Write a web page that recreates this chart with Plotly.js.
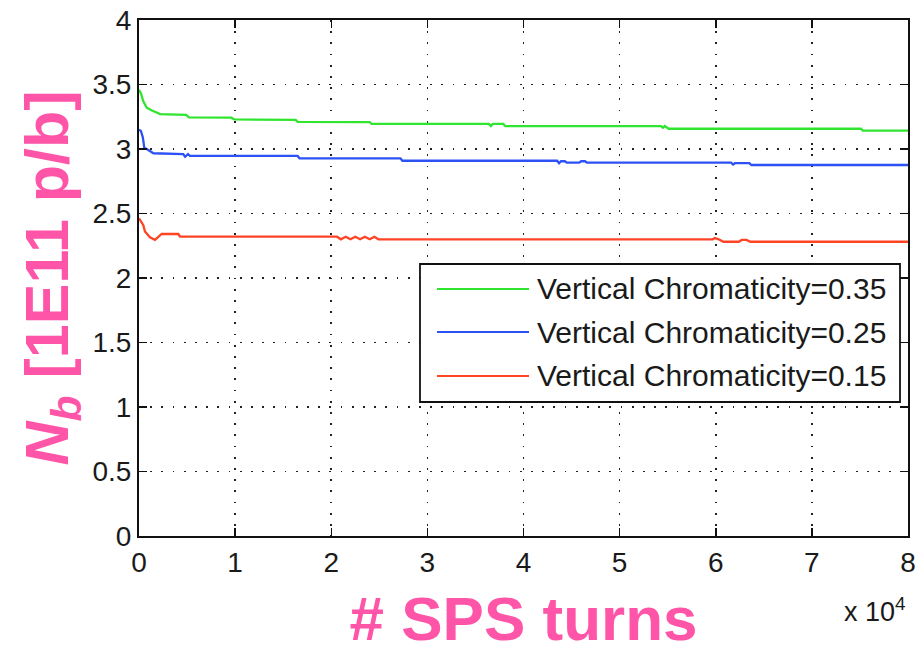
<!DOCTYPE html>
<html>
<head>
<meta charset="utf-8">
<script src="https://cdn.plot.ly/plotly-3.0.1.min.js"></script>
<style>html,body{margin:0;padding:0;background:#fff;}#chart{width:915px;height:653px;}</style>
</head>
<body>
<div id="chart"></div>
<script>
// ---- data ----
var seriesNames = ["Vertical Chromaticity=0.35", "Vertical Chromaticity=0.25", "Vertical Chromaticity=0.15"];

var greenTurns = [0, 200, 450, 800, 1300, 2200, 4900, 5200, 9600, 9900, 16300, 16500, 24000, 24200, 36400, 36600, 36800, 37900, 38100, 54300, 54500, 54700, 55100, 75100, 75300, 80000];
var greenNb    = [3.46, 3.43, 3.37, 3.32, 3.30, 3.27, 3.265, 3.245, 3.243, 3.23, 3.225, 3.21, 3.209, 3.194, 3.194, 3.178, 3.194, 3.194, 3.178, 3.178, 3.165, 3.178, 3.157, 3.157, 3.142, 3.142];

var blueTurns = [0, 200, 400, 550, 800, 1500, 4600, 4800, 5100, 5300, 16500, 16700, 27200, 27400, 43500, 43700, 43900, 44300, 44500, 45800, 46000, 46400, 46600, 61600, 61800, 62000, 63500, 63700, 80000];
var blueNb    = [3.15, 3.14, 3.09, 3.01, 3.00, 2.967, 2.961, 2.94, 2.961, 2.946, 2.946, 2.928, 2.928, 2.909, 2.909, 2.89, 2.905, 2.905, 2.894, 2.894, 2.905, 2.905, 2.894, 2.894, 2.88, 2.89, 2.89, 2.876, 2.876];

var redTurns = [0, 200, 450, 620, 1140, 1660, 2360, 4090, 4270, 20600, 21000, 21500, 22000, 22500, 23000, 23500, 24000, 24500, 24900, 59700, 59900, 60300, 60800, 62400, 62700, 63200, 63600, 64100, 80000];
var redNb    = [2.463, 2.44, 2.41, 2.36, 2.316, 2.295, 2.341, 2.341, 2.32, 2.32, 2.30, 2.32, 2.30, 2.32, 2.30, 2.32, 2.30, 2.32, 2.30, 2.30, 2.31, 2.30, 2.281, 2.281, 2.295, 2.295, 2.281, 2.281, 2.281];

var xTickVals  = [0, 10000, 20000, 30000, 40000, 50000, 60000, 70000, 80000];
var xTickText  = ["0", "1", "2", "3", "4", "5", "6", "7", "8"];
var yTickVals  = [0, 0.5, 1, 1.5, 2, 2.5, 3, 3.5, 4];
var yTickText  = ["0", "0.5", "1", "1.5", "2", "2.5", "3", "3.5", "4"];

// ---- styling ----
var colors = ["#2fe52f", "#2c52f5", "#ff4426"];
var pink = "#ff55a8";
var fam = "Liberation Sans, Arial, sans-serif";
var tickFont = {family: fam, size: 28, color: "#1a1a1a"};

var traces = [
  {x: greenTurns, y: greenNb, name: seriesNames[0]},
  {x: blueTurns,  y: blueNb,  name: seriesNames[1]},
  {x: redTurns,   y: redNb,   name: seriesNames[2]}
].map(function (t, i) {
  t.type = "scatter"; t.mode = "lines"; t.showlegend = false;
  t.line = {color: colors[i], width: 2.3};
  return t;
});

// custom legend (longer sample lines, like the reference)
var legRows = [0.4787, 0.3953, 0.3101];
var shapes = [{
  type: "rect", xref: "paper", yref: "paper",
  x0: 0.3654, x1: 0.9896, y0: 0.2597, y1: 0.5271,
  line: {color: "#111", width: 1.8}, fillcolor: "#ffffff", layer: "above"
}];
var annotations = [];
legRows.forEach(function (yy, i) {
  shapes.push({type: "line", xref: "paper", yref: "paper", x0: 0.3875, x1: 0.5072, y0: yy, y1: yy,
    line: {color: colors[i], width: 2}, layer: "above"});
  annotations.push({xref: "paper", yref: "paper", x: 0.5150, y: yy, xanchor: "left", yanchor: "middle",
    text: seriesNames[i], showarrow: false,
    font: {family: fam, size: 30, color: "#1a1a1a"}});
});
annotations.push({xref: "paper", yref: "paper", x: 1.0, y: 0, xanchor: "right", yanchor: "bottom", yshift: -93,
  text: "x 10<sup>4</sup>", showarrow: false,
  font: {family: fam, size: 27, color: "#1a1a1a"}});

var gridDash = "1.7px,9.5px";
var layout = {
  width: 915, height: 653,
  margin: {l: 139, r: 7, t: 20, b: 117},
  paper_bgcolor: "#ffffff", plot_bgcolor: "#ffffff",
  xaxis: {
    range: [0, 80000], tickmode: "array", tickvals: xTickVals, ticktext: xTickText,
    ticks: "inside", ticklen: 8, tickwidth: 1.5, tickcolor: "#111",
    showline: true, linecolor: "#111", linewidth: 2, mirror: "ticks",
    showgrid: true, gridcolor: "#222", gridwidth: 1.7, griddash: gridDash,
    zeroline: false, tickfont: tickFont, automargin: false, ticklabeloverflow: "allow",
    title: {text: "<b># SPS turns</b>", font: {family: fam, size: 62, color: pink}, standoff: 36}
  },
  yaxis: {
    range: [0, 4], tickmode: "array", tickvals: yTickVals, ticktext: yTickText,
    ticks: "inside", ticklen: 8, tickwidth: 1.5, tickcolor: "#111",
    showline: true, linecolor: "#111", linewidth: 2, mirror: "ticks",
    showgrid: true, gridcolor: "#222", gridwidth: 1.7, griddash: gridDash,
    zeroline: false, tickfont: tickFont, automargin: false, ticklabeloverflow: "allow",
    title: {text: "<b><i>N<sub>b</sub></i> [1E11 p/b]</b>", font: {family: fam, size: 61, color: pink}, standoff: 4}
  },
  shapes: shapes,
  annotations: annotations,
  showlegend: false
};

Plotly.newPlot("chart", traces, layout, {displayModeBar: false, staticPlot: true});
</script>
</body>
</html>
